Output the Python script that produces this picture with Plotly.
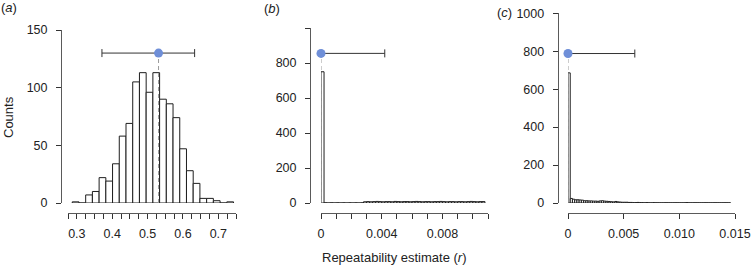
import plotly.graph_objects as go

W, H = 751, 267

# ---------------- data ----------------
# (a) histogram
a_bin_left = 0.287
a_bin_width = 0.019
a_counts = [1, 0, 7, 10, 22, 19, 34, 58, 69, 105, 113, 96, 113, 90, 86, 74, 47, 28, 17, 4, 4, 2, 0, 1]
a_mean = 0.531
a_point_y = 130
a_ci_low = 0.371
a_ci_high = 0.633
a_xtick_vals = [round(0.275 + 0.025 * k, 3) for k in range(20)]
a_xtick_labels = {0.3: "0.3", 0.4: "0.4", 0.5: "0.5", 0.6: "0.6", 0.7: "0.7"}
a_ytick_vals = [0, 50, 100, 150]
a_ytick_text = ["0", "50", "100", "150"]

# (b) histogram
b_bin_width = 0.0002
b_counts = ([750] + [1, 0, 1, 0, 1, 0, 1, 0, 1, 0, 1, 0, 1]
            + [7, 8, 7, 8, 9, 8, 7, 8, 8, 7, 9, 8, 7, 8, 8, 7, 8, 9, 8, 7,
               8, 8, 7, 8, 8, 9, 8, 7, 8, 8, 7, 8, 8, 7, 8, 9, 8, 7, 8, 8])
b_mean = 0.0
b_point_y = 855
b_ci_high = 0.0042
b_xtick_vals = [round(0.001 * k, 3) for k in range(12)]
b_xtick_labels = {0.0: "0", 0.004: "0.004", 0.008: "0.008"}
b_ytick_vals = [0, 200, 400, 600, 800, 1000]
b_ytick_text = ["0", "200", "400", "600", "800", ""]

# (c) histogram
c_bin_width = 0.0002
c_counts = [686, 24, 20, 17, 17, 16, 15, 12, 12, 11, 11, 10, 10, 9, 11, 12, 10, 9, 8, 7,
            6, 8, 6, 5, 4, 4, 4, 3, 3, 2, 2, 3, 2, 2, 1, 2, 1, 1, 2, 1,
            1, 1, 1, 1, 1, 1, 1, 1, 1, 1, 1, 1, 1, 2, 1, 1, 1, 1, 1, 1,
            1, 1, 1, 1, 1, 1, 1, 1, 1, 1, 1, 1, 1]
c_mean = 0.0
c_point_y = 788
c_ci_high = 0.006
c_xtick_vals = [0, 0.005, 0.010, 0.015]
c_xtick_text = ["0", "0.005", "0.010", "0.015"]
c_ytick_vals = [0, 200, 400, 600, 800, 1000]
c_ytick_text = ["0", "200", "400", "600", "800", "1000"]

# ---------------- styling ----------------
FONT = "Liberation Sans, Arial, Helvetica, sans-serif"
BAR_LINE = "#1e1e1e"
POINT_COLOR = "#6f8fd8"
DASH_COLOR = "#9a9a9a"
ERR_COLOR = "#333333"


def px(x):
    return x / W


def py(y):
    return 1 - y / H


fig = go.Figure()


def add_panel(idx, centers, counts, width, mean, point_y, ci_minus, ci_plus):
    xa = "x" if idx == 1 else f"x{idx}"
    ya = "y" if idx == 1 else f"y{idx}"
    fig.add_trace(go.Bar(
        x=centers, y=counts, width=width, xaxis=xa, yaxis=ya,
        marker=dict(color="white", line=dict(color=BAR_LINE, width=1)),
        hoverinfo="skip"))
    fig.add_trace(go.Scatter(
        x=[mean, mean], y=[0, point_y], xaxis=xa, yaxis=ya, mode="lines",
        line=dict(color=DASH_COLOR, width=1, dash="4px,3px"), cliponaxis=False,
        hoverinfo="skip"))
    fig.add_trace(go.Scatter(
        x=[mean], y=[point_y], xaxis=xa, yaxis=ya, mode="markers",
        marker=dict(size=9, color=POINT_COLOR),
        error_x=dict(type="data", symmetric=False, array=[ci_plus], arrayminus=[ci_minus],
                     color=ERR_COLOR, thickness=1, width=4),
        cliponaxis=False, hoverinfo="skip"))


a_centers = [a_bin_left + a_bin_width * (i + 0.5) for i in range(len(a_counts))]
b_centers = [b_bin_width * (i + 0.5) for i in range(len(b_counts))]
c_centers = [c_bin_width * (i + 0.5) for i in range(len(c_counts))]

add_panel(1, a_centers, a_counts, a_bin_width, a_mean, a_point_y,
          a_mean - a_ci_low, a_ci_high - a_mean)
add_panel(2, b_centers, b_counts, b_bin_width, b_mean, b_point_y, 0, b_ci_high - b_mean)
add_panel(3, c_centers, c_counts, c_bin_width, c_mean, c_point_y, 0, c_ci_high - c_mean)

axis_common = dict(showgrid=False, zeroline=False, showline=True, linecolor="#5a5a5a",
                   linewidth=1, ticks="outside", ticklen=5, tickwidth=1, tickcolor="#333333",
                   tickfont=dict(family=FONT, size=12.5, color="#222222"),
                   fixedrange=True, anchor="free", automargin=False)

x_pos = py(213)
y_bottom = py(203)

fig.update_layout(
    template="none",
    xaxis=dict(axis_common, domain=[px(68), px(236)], range=[0.275, 0.75], position=x_pos,
               tickmode="array", tickvals=a_xtick_vals,
               ticktext=[a_xtick_labels.get(v, "") for v in a_xtick_vals], ticklabelstandoff=4),
    yaxis=dict(axis_common, domain=[y_bottom, py(30)], range=[0, 150], position=px(61),
               tickmode="array", tickvals=a_ytick_vals, ticktext=a_ytick_text, ticklabelstandoff=6),
    xaxis2=dict(axis_common, domain=[px(321), px(488)], range=[0, 0.011], position=x_pos,
                tickmode="array", tickvals=b_xtick_vals,
                ticktext=[b_xtick_labels.get(v, "") for v in b_xtick_vals], ticklabelstandoff=4),
    yaxis2=dict(axis_common, domain=[y_bottom, py(28)], range=[0, 1000], position=px(310),
                tickmode="array", tickvals=b_ytick_vals, ticktext=b_ytick_text, ticklabelstandoff=6),
    xaxis3=dict(axis_common, domain=[px(568), px(735)], range=[0, 0.015], position=x_pos,
                tickmode="array", tickvals=c_xtick_vals, ticktext=c_xtick_text, ticklabelstandoff=4),
    yaxis3=dict(axis_common, domain=[y_bottom, py(13.3)], range=[0, 1000], position=px(557.7),
                tickmode="array", tickvals=c_ytick_vals, ticktext=c_ytick_text, ticklabelstandoff=6),
    width=W, height=H, autosize=False,
    margin=dict(l=0, r=0, t=0, b=0, pad=0, autoexpand=False),
    paper_bgcolor="white", plot_bgcolor="white",
    showlegend=False, bargap=0,
    font=dict(family=FONT, color="#222222"),
)

ann_font = dict(family=FONT, size=13, color="#222222")
ann_common = dict(xref="paper", yref="paper", showarrow=False, xanchor="center",
                  yanchor="middle", font=ann_font)
fig.add_annotation(text="(<i>a</i>)", x=px(9), y=py(8), **ann_common)
fig.add_annotation(text="(<i>b</i>)", x=px(272), y=py(9), **ann_common)
fig.add_annotation(text="(<i>c</i>)", x=px(505), y=py(12), **ann_common)
fig.add_annotation(text="Counts", x=px(9), y=py(117), textangle=-90, **ann_common)
fig.add_annotation(text="Repeatability estimate (<i>r</i>)", x=px(394), y=py(257), **ann_common)

fig.write_html("out.html", config={"displayModeBar": False, "staticPlot": True},
               post_script="document.body.style.margin='0';")
